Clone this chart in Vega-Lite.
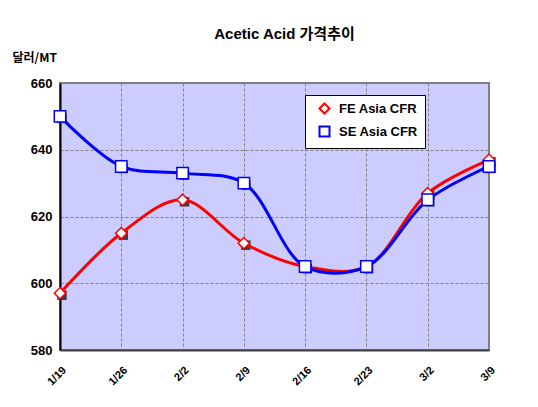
{
  "$schema": "https://vega.github.io/schema/vega-lite/v6.json",
  "width": 429,
  "height": 267,
  "autosize": {"type": "none"},
  "padding": {"left": 60, "top": 83, "right": 49, "bottom": 57},
  "background": "white",
  "title": {
    "text": "Acetic Acid 가격추이",
    "font": "Liberation Sans, Noto Sans CJK KR",
    "fontSize": 15,
    "fontWeight": "bold",
    "color": "black",
    "anchor": "middle",
    "dx": 10,
    "offset": 9
  },
  "data": {
    "values": [
      {"date": "1/19", "series": "FE Asia CFR", "price": 597},
      {"date": "1/26", "series": "FE Asia CFR", "price": 615},
      {"date": "2/2", "series": "FE Asia CFR", "price": 625},
      {"date": "2/9", "series": "FE Asia CFR", "price": 612},
      {"date": "2/16", "series": "FE Asia CFR", "price": 605},
      {"date": "2/23", "series": "FE Asia CFR", "price": 605},
      {"date": "3/2", "series": "FE Asia CFR", "price": 627},
      {"date": "3/9", "series": "FE Asia CFR", "price": 637},
      {"date": "1/19", "series": "SE Asia CFR", "price": 650},
      {"date": "1/26", "series": "SE Asia CFR", "price": 635},
      {"date": "2/2", "series": "SE Asia CFR", "price": 633},
      {"date": "2/9", "series": "SE Asia CFR", "price": 630},
      {"date": "2/16", "series": "SE Asia CFR", "price": 605},
      {"date": "2/23", "series": "SE Asia CFR", "price": 605},
      {"date": "3/2", "series": "SE Asia CFR", "price": 625},
      {"date": "3/9", "series": "SE Asia CFR", "price": 635}
    ]
  },
  "encoding": {
    "x": {
      "field": "date",
      "type": "ordinal",
      "sort": null,
      "scale": {"type": "point", "padding": 0},
      "axis": {
        "title": null,
        "labelAngle": -45,
        "labelFont": "Liberation Sans",
        "labelFontSize": 11,
        "labelFontWeight": "bold",
        "labelColor": "black",
        "labelPadding": 14,
        "ticks": false,
        "domain": true,
        "domainColor": "#404040",
        "domainWidth": 2,
        "grid": true,
        "gridColor": "#808080",
        "gridDash": [3, 2],
        "gridWidth": 1
      }
    },
    "y": {
      "field": "price",
      "type": "quantitative",
      "scale": {"domain": [580, 660], "nice": false, "zero": false},
      "axis": {
        "values": [580, 600, 620, 640, 660],
        "title": "달러/MT",
        "titleAngle": 0,
        "titleAlign": "left",
        "titleBaseline": "middle",
        "titleX": -48,
        "titleY": -26,
        "titleFont": "Noto Sans CJK KR",
        "titleFontSize": 12,
        "titleFontWeight": "bold",
        "titleColor": "black",
        "labelFont": "Liberation Sans",
        "labelFontSize": 13,
        "labelFontWeight": "bold",
        "labelColor": "black",
        "labelPadding": 8,
        "ticks": false,
        "domainColor": "black",
        "domainWidth": 2,
        "grid": true,
        "gridColor": "#808080",
        "gridDash": [3, 2],
        "gridWidth": 1
      }
    }
  },
  "layer": [
    {
      "mark": {"type": "point", "shape": "square", "filled": true, "color": "black", "size": 90, "xOffset": 2, "yOffset": 2},
      "encoding": {
        "detail": {"field": "series"}
      }
    },
    {
      "mark": {
        "type": "line",
        "interpolate": "catmull-rom",
        "strokeWidth": 3,
        "point": {"filled": false, "fill": "white", "fillOpacity": 1, "opacity": 1, "strokeWidth": 1.5, "size": 130}
      },
      "encoding": {
        "color": {
          "field": "series",
          "type": "nominal",
          "scale": {"domain": ["FE Asia CFR", "SE Asia CFR"], "range": ["#FF0000", "#0000FF"]},
          "legend": {
            "title": null,
            "orient": "none",
            "legendX": 245,
            "legendY": 12,
            "fillColor": "white",
            "strokeColor": "black",
            "padding": 7,
            "labelFont": "Liberation Sans",
            "labelFontSize": 13,
            "labelFontWeight": "bold",
            "labelColor": "black",
            "labelOffset": 8,
            "symbolOffset": 6,
            "symbolStrokeWidth": 2,
            "symbolFillColor": "white",
            "symbolSize": 100,
            "rowPadding": 4
          }
        },
        "shape": {
          "field": "series",
          "type": "nominal",
          "scale": {"domain": ["FE Asia CFR", "SE Asia CFR"], "range": ["diamond", "square"]}
        }
      }
    }
  ],
  "config": {
    "view": {"fill": "#CCCCFF", "stroke": "#808080", "strokeWidth": 2}
  }
}
